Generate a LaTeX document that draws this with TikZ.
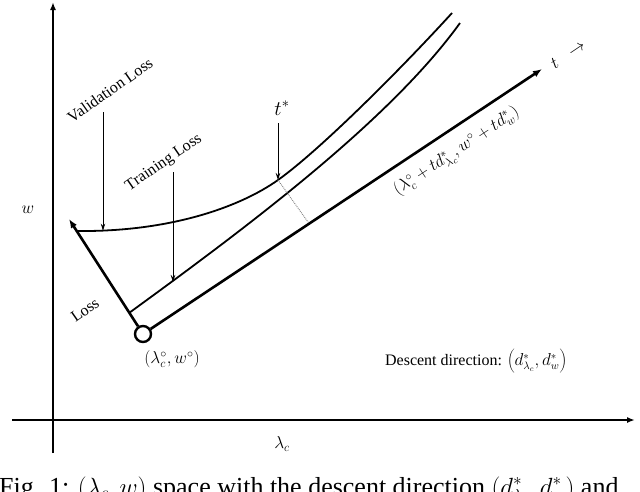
\documentclass[tikz,border=0pt]{standalone}
\usepackage{fontspec}
\setmainfont{Liberation Serif}
\usetikzlibrary{arrows.meta}
\begin{document}
\begin{tikzpicture}[x=1pt,y=-1pt,
  axis/.style={line width=2.2pt,-{Latex[length=8pt,width=6pt]}},
  thick line/.style={line width=2.6pt},
  curve/.style={line width=1.8pt},
  pointer/.style={line width=0.9pt,-{Stealth[length=7pt,width=4.5pt]}},
  lbl/.style={font=\fontsize{16}{18}\selectfont,inner sep=0pt},
  mlbl/.style={font=\fontsize{18}{20}\selectfont,inner sep=0pt}]
\useasboundingbox (0,0) rectangle (640,491);
\clip (0,0) rectangle (640,491);
% axes
\coordinate (ybot) at (53,453);
\coordinate (ytop) at (53,2);
\coordinate (xl) at (12,420);
\coordinate (xr) at (635,420);
\draw[axis] (ybot) -- (ytop);
\draw[axis] (xl) -- (xr);
\node[mlbl] (wlab) at (28,210) {$w$};
\node[mlbl] (lclab) at (282,444) {$\lambda_c$};
% origin point
\node[circle,draw,line width=2.4pt,minimum size=16pt,inner sep=0pt,fill=white] (o) at (143,334) {};
\node[mlbl] (olab) at (172,359) {$(\lambda^\circ_c, w^\circ)$};
% loss arrow
\coordinate (losstip) at (69,219);
\draw[thick line,-{Latex[length=9pt,width=7pt]}] (o) -- (losstip);
\node[lbl,rotate=35] (losslab) at (85,310) {Loss};
% descent line
\coordinate (dtip) at (542,69);
\draw[thick line,-{Latex[length=9pt,width=7pt]}] (o) -- (dtip);
\node[mlbl,rotate=34,anchor=west] (tlab) at (552,65) {$t\;\;\rightarrow$};
\node[mlbl,rotate=33.5] (dlab) at (457,152) {$(\lambda^\circ_c+td^*_{\lambda_c}, w^\circ+td^*_w)$};
% curves
\coordinate (vs) at (77,231);
\coordinate (va) at (103,230.6);
\coordinate (vt) at (278,180);
\coordinate (ve) at (452,13);
\draw[curve] (vs) .. controls (170,232) and (240,207) .. (vt)
                  .. controls (320,150) and (400,70) .. (ve);
\coordinate (ts) at (129,313);
\coordinate (ta) at (173,282);
\coordinate (te) at (460,23);
\draw[curve] (ts) .. controls (250,225) and (390,120) .. (te);
% perpendicular dotted
\coordinate (db) at (308,222);
\draw[gray,line width=0.9pt,densely dotted] (vt) -- (db);
% pointers
\coordinate (vstart) at (103,112);
\draw[pointer] (vstart) -- (va);
\node[lbl,rotate=35] (vlab) at (110,90) {Validation Loss};
\coordinate (tstart) at (173,172);
\draw[pointer] (tstart) -- (ta);
\node[lbl,rotate=34.5] (tllab) at (164,163) {Training Loss};
\coordinate (tsstart) at (278,123);
\draw[pointer] (tsstart) -- (vt);
\node[font=\fontsize{20}{22}\selectfont,inner sep=0pt] (tstar) at (282,108) {$t^*$};
% descent direction text
\node[lbl] (ddlab) at (476,361) {Descent direction: $\left(d^*_{\lambda_c}, d^*_w\right)$};
% caption (cut off)
\node[anchor=base west,inner sep=0pt,font=\fontsize{26}{28}\selectfont] (cap) at (-1,495) {Fig. 1: $(\lambda_c, w)$ space with the descent direction $(d^*_{\lambda_c}, d^*_w)$ and};
\end{tikzpicture}
\end{document}
